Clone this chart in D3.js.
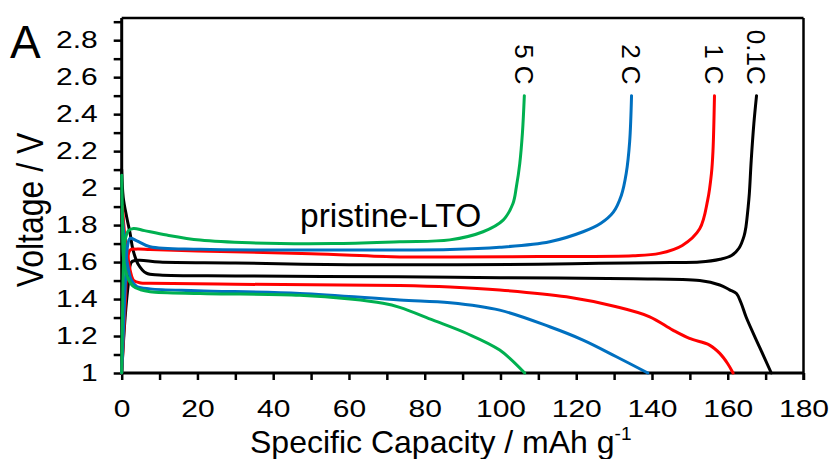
<!DOCTYPE html>
<html>
<head>
<meta charset="utf-8">
<script src="https://cdn.jsdelivr.net/npm/d3@7"></script>
<style>
  body { margin: 0; background: #fff; }
  svg { display: block; }
  text { font-family: "Liberation Sans", Arial, sans-serif; fill: #000; }
</style>
</head>
<body>
<svg id="chart" width="832" height="459"></svg>
<script>
// charge / discharge curves, [capacity mAh/g, voltage V]
const charge01C = [[0,1.0],[0.9,1.30],[1.8,1.49],[2.6,1.6],[4.5,1.61],[10,1.60],[30,1.595],[60,1.585],[87,1.585],[110,1.588],[126,1.593],[145,1.598],[152.6,1.60],[158,1.615],[161,1.635],[163,1.676],[164.3,1.74],[164.8,1.79],[165.4,1.9],[165.7,1.97],[166.2,2.15],[166.9,2.35],[167.6,2.5]];
const discharge01C = [[0,2.1],[0.4,1.95],[1.3,1.845],[2.2,1.757],[3,1.665],[4.3,1.59],[6.5,1.54],[10,1.53],[30,1.525],[73,1.52],[100,1.515],[135,1.51],[152.6,1.50],[157.9,1.476],[160.5,1.45],[162.3,1.43],[163.5,1.38],[164.9,1.30],[168.4,1.14],[171.5,1.0]];

const charge1C = [[0,1.0],[0.5,1.2],[1.0,1.4],[1.5,1.6],[2.2,1.665],[4,1.67],[7.5,1.668],[20,1.66],[50,1.645],[73.4,1.628],[86.7,1.628],[110,1.63],[135,1.634],[142,1.647],[148,1.69],[152.6,1.78],[154.7,1.935],[155.7,2.08],[156.1,2.2],[156.5,2.5]];
const discharge1C = [[0.2,1.9],[0.8,1.75],[1.5,1.65],[2.3,1.55],[3.2,1.5],[5,1.487],[7.5,1.485],[30,1.48],[73.4,1.473],[86.7,1.465],[99.8,1.449],[117.4,1.412],[130.6,1.358],[139.4,1.304],[145.5,1.232],[149.9,1.187],[155.2,1.151],[157.9,1.106],[160,1.05],[161.4,1.0]];

const charge2C = [[0,1.0],[0.3,1.15],[0.6,1.3],[1.0,1.5],[1.5,1.68],[2.2,1.728],[4,1.715],[7.5,1.683],[20.7,1.669],[50,1.665],[86.7,1.668],[99.8,1.68],[113,1.71],[121.8,1.764],[126.5,1.81],[129.8,1.87],[131.9,1.96],[133.2,2.08],[134.1,2.25],[134.6,2.5]];
const discharge2C = [[0.2,1.85],[0.8,1.7],[1.6,1.58],[2.6,1.5],[4,1.468],[7.5,1.455],[20,1.445],[47,1.43],[73.4,1.395],[86.7,1.38],[99.8,1.34],[113,1.25],[121.8,1.178],[130.6,1.088],[138.9,1.0]];

const charge5C = [[0,1.0],[0.2,1.3],[0.5,1.6],[0.9,1.72],[1.8,1.77],[3.1,1.782],[6,1.77],[11.9,1.746],[20.7,1.719],[33.9,1.704],[55.8,1.70],[73.4,1.71],[86.6,1.72],[95.4,1.764],[100.7,1.827],[103.3,1.917],[104.2,2.007],[105.1,2.134],[105.8,2.3],[106.3,2.5]];
const discharge5C = [[0,2.07],[0.2,1.85],[0.5,1.62],[1.5,1.52],[3,1.47],[5,1.45],[7.5,1.44],[20.7,1.43],[47,1.42],[60.3,1.40],[69,1.377],[73.4,1.355],[82.2,1.286],[91,1.215],[99.8,1.124],[106.4,1.0]];

const rates = ["0.1C", "1 C", "2 C", "5 C"];
const rateColors = ["#000000", "#ff0000", "#0070c0", "#00b050"];
const curves = [[charge01C, discharge01C], [charge1C, discharge1C], [charge2C, discharge2C], [charge5C, discharge5C]];

const xTicks = d3.range(0, 181, 10);
const yTicks = d3.range(10, 30).map(d => d / 10);

const margin = {top: 18, right: 28.5, bottom: 86, left: 121.7};
const width = 832 - margin.left - margin.right;
const height = 459 - margin.top - margin.bottom;

const svg = d3.select('#chart');
const g = svg.append('g').attr('transform', `translate(${margin.left},${margin.top})`);

const x = d3.scaleLinear().domain([0, 180]).range([0, width]);
const y = d3.scaleLinear().domain([1, 2.92]).range([height, 0]);

// stretch tick text a bit wider, like in the figure
function stretch(sel, k) {
  sel.each(function() {
    const w = this.getComputedTextLength();
    if (w > 0) d3.select(this).attr('textLength', w * k).attr('lengthAdjust', 'spacingAndGlyphs');
  });
}

// frame (top and right)
g.append('line').attr('x1', 0).attr('x2', width).attr('y1', 0).attr('y2', 0)
  .attr('stroke', '#000').attr('stroke-width', 2.5);
g.append('line').attr('x1', width).attr('x2', width).attr('y1', 0).attr('y2', height + 7)
  .attr('stroke', '#000').attr('stroke-width', 2.5);

const xAxis = g.append('g')
  .attr('transform', `translate(0,${height})`)
  .call(d3.axisBottom(x).tickValues(xTicks).tickSize(7).tickPadding(20)
    .tickFormat(d => d % 20 === 0 ? d : ''));

const yAxis = g.append('g')
  .call(d3.axisLeft(y).tickValues(yTicks).tickSize(8).tickPadding(16)
    .tickFormat(d => Math.round(d * 10) % 2 === 0 ? String(+d.toFixed(1)) : ''));

[xAxis, yAxis].forEach(a => {
  a.select('.domain').remove();
  a.selectAll('.tick line').attr('stroke-width', 2.5);
  a.selectAll('.tick text').style('font-size', '24px').attr('fill', '#000');
});
g.append('line').attr('x1', 0).attr('x2', width).attr('y1', height).attr('y2', height)
  .attr('stroke', '#000').attr('stroke-width', 3);
g.append('line').attr('x1', 0).attr('x2', 0).attr('y1', 0).attr('y2', height + 1.5)
  .attr('stroke', '#000').attr('stroke-width', 3);

stretch(xAxis.selectAll('.tick text'), 1.25);
stretch(yAxis.selectAll('.tick text'), 1.25);

// curves
const line = d3.line()
  .x(d => x(d[0]))
  .y(d => y(d[1]))
  .curve(d3.curveCatmullRom.alpha(0.5));

curves.forEach((pair, i) => {
  pair.forEach(data => {
    g.append('path')
      .datum(data)
      .attr('fill', 'none')
      .attr('stroke', rateColors[i])
      .attr('stroke-width', 3)
      .attr('stroke-linejoin', 'round')
      .attr('stroke-linecap', 'round')
      .attr('d', line);
  });
  // rate label above the charge end, rotated
  const end = pair[0][pair[0].length - 1];
  const fs = 26;
  g.append('text')
    .attr('transform', `translate(${x(end[0]) - 0.36 * fs},${y(end[1]) - 11}) rotate(90)`)
    .attr('text-anchor', 'end')
    .style('font-size', fs + 'px')
    .attr('fill', rateColors[i])
    .text(rates[i]);
});

g.append('text')
  .attr('x', 300 - margin.left).attr('y', 227 - margin.top)
  .style('font-size', '33.5px')
  .text('pristine-LTO');

// axis titles
const xt = svg.append('text')
  .attr('x', 250).attr('y', 453)
  .style('font-size', '32px');
xt.append('tspan').text('Specific Capacity / mAh g');
xt.append('tspan').attr('dy', -13).style('font-size', '19px').text('-1');

svg.append('text')
  .attr('transform', 'translate(43,210) scale(1.15,1) rotate(-90)')
  .attr('text-anchor', 'middle')
  .style('font-size', '32px')
  .text('Voltage / V');

svg.append('text')
  .attr('x', 10).attr('y', 58)
  .style('font-size', '46px')
  .text('A');
</script>
</body>
</html>
